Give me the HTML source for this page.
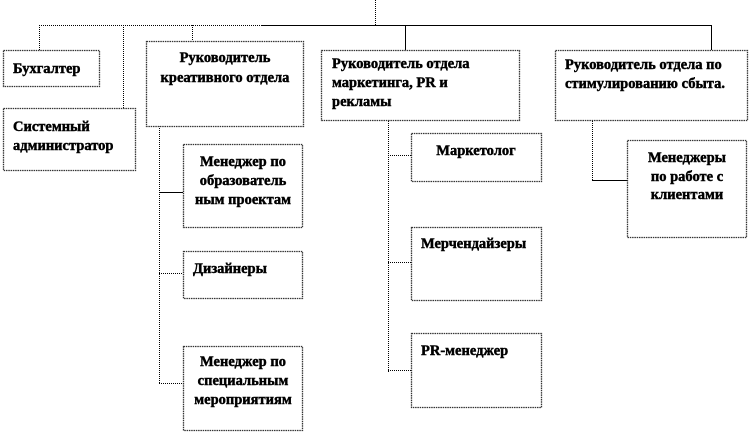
<!DOCTYPE html>
<html><head><meta charset="utf-8"><style>
html,body{margin:0;padding:0;background:#fff;}
svg{display:block;}
text{font-family:"Liberation Serif","DejaVu Serif",serif;font-weight:bold;font-size:14.5px;fill:#000;stroke:#000;stroke-width:0.45;}
.b{fill:#fff;stroke:#333;stroke-width:1.3;stroke-dasharray:1.5 0.8;}
.l{stroke:#000;stroke-width:1;fill:none;}
.d{stroke:#000;stroke-width:1;fill:none;stroke-dasharray:1 1;}
</style></head><body>
<svg width="750" height="433" viewBox="0 0 750 433" xmlns="http://www.w3.org/2000/svg">
<line class="d" x1="375.5" y1="0" x2="375.5" y2="25"/>
<line class="d" x1="39" y1="25.5" x2="262" y2="25.5"/>
<line class="l" x1="262" y1="25.5" x2="376" y2="25.5"/>
<line class="l" x1="375" y1="25.5" x2="711" y2="25.5"/>
<line class="d" x1="39.5" y1="25" x2="39.5" y2="50"/>
<line class="d" x1="123.5" y1="25" x2="123.5" y2="108"/>
<line class="d" x1="192.5" y1="25" x2="192.5" y2="41"/>
<line class="l" x1="405.5" y1="25" x2="405.5" y2="50"/>
<line class="l" x1="711.5" y1="25" x2="711.5" y2="50"/>
<line class="d" x1="159.5" y1="126" x2="159.5" y2="384"/>
<line class="l" x1="159" y1="192.5" x2="183" y2="192.5"/>
<line class="d" x1="159" y1="273.5" x2="183" y2="273.5"/>
<line class="d" x1="159" y1="383.5" x2="183" y2="383.5"/>
<line class="d" x1="388.5" y1="121" x2="388.5" y2="372"/>
<line class="d" x1="388" y1="155.5" x2="411" y2="155.5"/>
<line class="d" x1="388" y1="262.5" x2="411" y2="262.5"/>
<line class="d" x1="388" y1="370.5" x2="411" y2="370.5"/>
<line class="d" x1="592.5" y1="121" x2="592.5" y2="180"/>
<line class="l" x1="592" y1="180.5" x2="627" y2="180.5"/>

<rect class="b" x="3.5" y="50.5" width="96" height="36"/>
<rect class="b" x="3.5" y="108.5" width="132" height="62"/>
<rect class="b" x="146.5" y="41.5" width="157" height="85"/>
<rect class="b" x="321.5" y="50.5" width="198" height="70"/>
<rect class="b" x="555.5" y="50.5" width="192" height="70"/>
<rect class="b" x="183.5" y="144.5" width="119" height="83"/>
<rect class="b" x="183.5" y="251.5" width="119" height="47"/>
<rect class="b" x="183.5" y="346.5" width="119" height="84"/>
<rect class="b" x="411.5" y="133.5" width="130" height="48"/>
<rect class="b" x="411.5" y="227.5" width="130" height="73"/>
<rect class="b" x="411.5" y="333.5" width="130" height="74"/>
<rect class="b" x="627.5" y="140.5" width="119" height="97"/>

<text x="13" y="73">Бухгалтер</text>
<text x="13" y="131">Системный</text>
<text x="13" y="150">администратор</text>
<text x="225" y="62" text-anchor="middle">Руководитель</text>
<text x="225" y="82" text-anchor="middle">креативного отдела</text>
<text x="332" y="68">Руководитель отдела</text>
<text x="332" y="87">маркетинга, PR и</text>
<text x="332" y="106">рекламы</text>
<text x="565" y="69">Руководитель отдела по</text>
<text x="565" y="88">стимулированию сбыта.</text>
<text x="243" y="166" text-anchor="middle">Менеджер по</text>
<text x="243" y="185" text-anchor="middle">образователь</text>
<text x="243" y="204" text-anchor="middle">ным проектам</text>
<text x="193" y="273">Дизайнеры</text>
<text x="243" y="366" text-anchor="middle">Менеджер по</text>
<text x="243" y="385" text-anchor="middle">специальным</text>
<text x="243" y="404" text-anchor="middle">мероприятиям</text>
<text x="476" y="155" text-anchor="middle">Маркетолог</text>
<text x="421" y="248">Мерчендайзеры</text>
<text x="421" y="355">PR-менеджер</text>
<text x="687" y="162" text-anchor="middle">Менеджеры</text>
<text x="687" y="181" text-anchor="middle">по работе с</text>
<text x="687" y="199" text-anchor="middle">клиентами</text>
</svg>
</body></html>
